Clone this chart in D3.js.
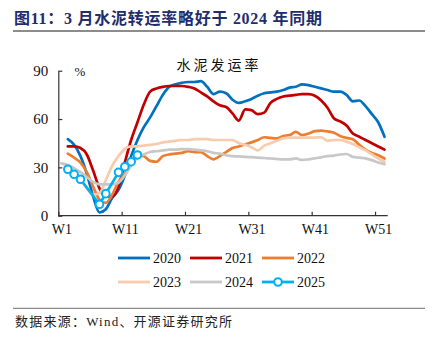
<!DOCTYPE html>
<html>
<head>
<meta charset="utf-8">
<script src="https://cdn.jsdelivr.net/npm/d3@7/dist/d3.min.js"></script>
<style>
  body { margin: 0; background: #fff; }
  svg { display: block; }
</style>
</head>
<body>
<svg id="chart"></svg>
<script>
// weekly cement shipment rate (%), index 0 = W1, null = no data
const weeks = d3.range(1, 53);
const years = ['2020', '2021', '2022', '2023', '2024', '2025'];
const colors = ['#0070C0', '#C00000', '#ED7D31', '#F8CBAD', '#C8C8C8', '#00B0F0'];

const y2020 = [null, 47.5, 44, 37, 26, 12, 2, 4, 11, 16, 25, 37, 47, 55, 61, 68, 75, 80, 81.5, 82.5, 83,
  83, 83.5, 80, 75.5, 77, 76, 72, 70, 71, 72.5, 74.5, 76, 76.5, 77, 78, 79.5, 80, 81.5, 81, 80,
  79, 78, 77, 77, 75, 71, 71.5, 68, 63, 58, 49];
const y2021 = [null, 43, 43, 42, 38, 28, 17, 12, 12, 18, 33, 47, 58, 69, 77, 79, 80, 80.5, 80.5, 80.5, 80,
  79, 76.5, 74, 71, 68.5, 67.5, 63.5, 59, 66, 65.5, 63, 64, 70, 72.5, 74, 74.5, 75, 75.5, 75.5, 74.5,
  71.5, 67, 60.5, 58.5, 56, 51, 49, 47, 45, 43, 41];
const y2022 = [null, 38.5, 36, 33, 27, 18, 10, 8, 13, 21, 26, 32, 37.5, 37, 34, 33.5, 37, 38, 38.5, 39, 40,
  39.5, 39.5, 37, 35, 37, 39.5, 42, 43, 44.3, 45.5, 47, 48.7, 48.3, 48, 49.5, 50, 52, 50, 51, 52.5,
  52.8, 52.3, 51.5, 49.5, 48.3, 47.5, 44, 41, 39, 37.5, 35.5];
const y2023 = [32.5, 30.5, 27, 22, 17, 13, 14, 22, 31, 37, 41.5, 43, 43, 43.5, 44, 44.5, 45.5, 46, 46.5, 47, 47,
  47.5, 47.5, 47.5, 47, 47, 47, 47, 45, 44, 42.5, 40.5, 43.5, 45, 46.5, 48, 48.5, 48.5, 48.5, 48.5, 48.5,
  48.7, 46.5, 47, 47, 46, 44.5, 42.5, 40.5, 38, 35.5, 33.5];
const y2024 = [32.5, 31.5, 29.5, 27, 24, 21, 19.5, 19.5, 19.5, 20.5, 25, 31, 36, 38, 39.5, 40, 40.5, 41, 41, 41.3, 41.3,
  41, 40.5, 40, 39, 38.5, 37.5, 37, 36.8, 36.5, 36.3, 36, 35.8, 35.5, 35.2, 35, 35, 35.6, 34.6, 35, 35.6,
  36.2, 37, 37.3, 38, 38.3, 36.5, 36, 35.6, 34.5, 33, 32];
const y2025 = [null, 28.8, 25.7, 22.6, null, null, 7.1, 13.7, null, 26.9, 30.4, 33.5, 37.7];

const series = [y2020, y2021, y2022, y2023, y2024, y2025];
const yTicks = [0, 30, 60, 90];
const xTicks = [1, 11, 21, 31, 41, 51];

const W = 438, H = 340;
const svg = d3.select('#chart').attr('width', W).attr('height', H);
const serif = '"Times New Roman", "Liberation Serif", "Noto Sans CJK SC", serif';

// header
svg.append('text').attr('x', 14).attr('y', 23.5)
  .attr('font-family', serif).attr('font-weight', 'bold').attr('font-size', 16)
  .attr('fill', '#1F2D6B').attr('textLength', 308).attr('lengthAdjust', 'spacing')
  .text('图11：3 月水泥转运率略好于 2024 年同期');
svg.append('line').attr('x1', 13).attr('x2', 425).attr('y1', 31).attr('y2', 31)
  .attr('stroke', '#8c8c8c').attr('stroke-width', 2);

const x = d3.scaleLinear().domain([0.5, 52.5]).range([58.3, 387.7]);
const y = d3.scaleLinear().domain([0, 90]).range([215.7, 70.7]);

const g = svg.append('g');

// axes, ticks drawn inward
const yAxis = g.append('g').attr('transform', `translate(${x(0.5)},0)`)
  .call(d3.axisLeft(y).tickValues(yTicks).tickSizeInner(-4).tickSizeOuter(0).tickPadding(10));
const xAxis = g.append('g').attr('transform', `translate(0,${y(0)})`)
  .call(d3.axisBottom(x).tickValues(xTicks.map(d => d - 0.5)).tickSizeInner(-4).tickSizeOuter(0)
    .tickFormat(d => 'W' + (d + 0.5)));
[yAxis, xAxis].forEach(a => {
  a.select('.domain').attr('stroke', '#333').attr('stroke-width', 1.2);
  a.selectAll('.tick line').attr('stroke', '#333').attr('stroke-width', 1.2);
  a.selectAll('text').attr('font-family', serif).attr('fill', '#111');
});
yAxis.selectAll('text').attr('font-size', 15);
xAxis.selectAll('text').attr('font-size', 14).attr('dy', '1.1em')
  .attr('transform', `translate(${(x(1) - x(0.5))},0)`);
xAxis.select('.domain').attr('d', `M${x(0.5)},0H${x(52.5)}`);

svg.append('text').attr('x', 80).attr('y', 76).attr('text-anchor', 'middle')
  .attr('font-family', serif).attr('font-size', 13).attr('fill', '#111').text('%');

svg.append('text').attr('x', 219).attr('y', 70).attr('text-anchor', 'middle')
  .attr('font-family', serif).attr('font-size', 14).attr('letter-spacing', 3)
  .attr('fill', '#111').text('水泥发运率');

// lines
const smooth = d3.line().x(d => x(d.w)).y(d => y(d.v)).curve(d3.curveMonotoneX);
const straight = d3.line().x(d => x(d.w)).y(d => y(d.v));

series.forEach((s, i) => {
  const pts = s.map((v, j) => ({ w: weeks[j], v })).filter(d => d.v != null);
  g.append('path').datum(pts)
    .attr('fill', 'none').attr('stroke', colors[i])
    .attr('stroke-width', 2.7).attr('stroke-linejoin', 'round').attr('stroke-linecap', 'round')
    .attr('d', i === 5 ? straight : smooth);
  if (i === 5) {
    g.selectAll('.mk').data(pts).join('circle').attr('class', 'mk')
      .attr('cx', d => x(d.w)).attr('cy', d => y(d.v)).attr('r', 3.8)
      .attr('fill', '#fff').attr('stroke', colors[i]).attr('stroke-width', 2);
  }
});

// legend
const legend = svg.append('g');
years.forEach((yr, i) => {
  const lx = 118 + (i % 3) * 72, ly = i < 3 ? 258 : 282;
  const row = legend.append('g').attr('transform', `translate(${lx},${ly})`);
  row.append('line').attr('x1', 0).attr('x2', 32).attr('stroke', colors[i]).attr('stroke-width', 2.8);
  if (i === 5) row.append('circle').attr('cx', 16).attr('r', 3.8)
    .attr('fill', '#fff').attr('stroke', colors[i]).attr('stroke-width', 2);
  row.append('text').attr('x', 35).attr('y', 5).attr('font-family', serif)
    .attr('font-size', 14).attr('fill', '#111').text(yr);
});

// footer
svg.append('line').attr('x1', 13).attr('x2', 425).attr('y1', 308.3).attr('y2', 308.3)
  .attr('stroke', '#8c8c8c').attr('stroke-width', 1.2);
svg.append('text').attr('x', 15).attr('y', 326)
  .attr('font-family', serif).attr('font-size', 13).attr('fill', '#222')
  .attr('textLength', 217).attr('lengthAdjust', 'spacing')
  .text('数据来源：Wind、开源证券研究所');
</script>
</body>
</html>
